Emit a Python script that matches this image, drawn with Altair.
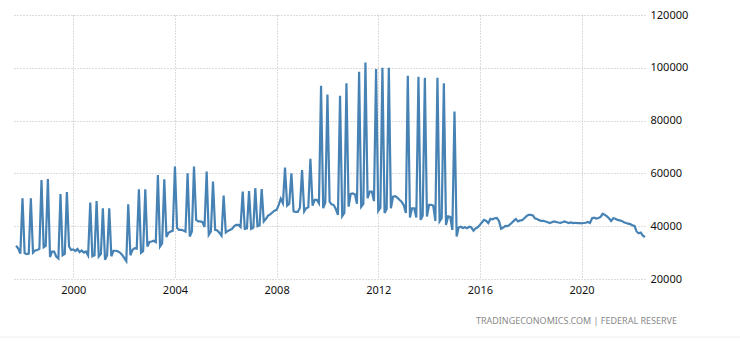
import altair as alt
import pandas as pd

# Monthly series, first value = October 1997
start_month = "1997-10-01"
values = [
    32600, 31500, 29600,                                                            # 1997 Oct-Dec
    50600, 29800, 29400, 29600, 50600, 30000, 30800, 31000, 31400, 57500, 32000, 32500,  # 1998
    57900, 28300, 30400, 30400, 28500, 27800, 52200, 29000, 29500, 52900, 32300, 31000,  # 1999
    31200, 30600, 31400, 30200, 30800, 30000, 30400, 28900, 49000, 28600, 29000, 49500,  # 2000
    28500, 29500, 46800, 27300, 29000, 46800, 28600, 30700, 30700, 30500, 30000, 29200,  # 2001
    28000, 26800, 48300, 29000, 31000, 31700, 31500, 54000, 29900, 30500, 54000, 32300,  # 2002
    34000, 34200, 34500, 34000, 59400, 32300, 33500, 57800, 35900, 37500, 38000, 38300,  # 2003
    62600, 39300, 38600, 38600, 38400, 38000, 60000, 36100, 38000, 62600, 42400, 41800,  # 2004
    41800, 41500, 39700, 60700, 36700, 38000, 56900, 38600, 38400, 37500, 36400, 51600,  # 2005
    37600, 38200, 38600, 39000, 40000, 40500, 40500, 39700, 53100, 39000, 39200, 53300,  # 2006
    39000, 39500, 54400, 40000, 40300, 54100, 41800, 42800, 44000, 44500, 45200, 45900,  # 2007
    46200, 48100, 50400, 48700, 62200, 47800, 48500, 60000, 45600, 45400, 45400, 47000,  # 2008
    61300, 45600, 46800, 47200, 65500, 47800, 50000, 50000, 48700, 93200, 46800, 49000,  # 2009
    89900, 49300, 48300, 48000, 46500, 44300, 89400, 43800, 45000, 94100, 47400, 52200,  # 2010
    52400, 52000, 48500, 98500, 47400, 48500, 102000, 50600, 53100, 53100, 49500, 99500, # 2011
    45800, 47000, 100000, 45000, 46500, 100000, 46800, 51200, 51400, 50800, 50000, 49300,# 2012
    48000, 45000, 97000, 43300, 46800, 46800, 43300, 96600, 42400, 44000, 96200, 43700,  # 2013
    48100, 48100, 47800, 42000, 96200, 41800, 43000, 94100, 40500, 43700, 43500, 38600,  # 2014
    83400, 36100, 39500, 39800, 39300, 39600, 39200, 39800, 39500, 38300, 39200, 39600,  # 2015
    40500, 41500, 42400, 42000, 41200, 42800, 42600, 43000, 43100, 42000, 39000, 39500,  # 2016
    40100, 40000, 40500, 41200, 42000, 42700, 41800, 42200, 42300, 43000, 43800, 44300,  # 2017
    44300, 44100, 43000, 42700, 42300, 42000, 42000, 41800, 41500, 41200, 41500, 41800,  # 2018
    41600, 41400, 41300, 41500, 41800, 41500, 41200, 41400, 41200, 41300, 41200, 41200,  # 2019
    41100, 41200, 41300, 41600, 41200, 43000, 43200, 42900, 43100, 43500, 44700, 44300,  # 2020
    43700, 42900, 42000, 43000, 42800, 42400, 42200, 42000, 41500, 41200, 41000, 40800,  # 2021
    40300, 40100, 38000, 37300, 37600, 36400, 35900,                                     # 2022 Jan-Jul
]
x_tick_years = [2000, 2004, 2008, 2012, 2016, 2020]
y_ticks = [20000, 40000, 60000, 80000, 100000, 120000]
source_text = "TRADINGECONOMICS.COM  |  FEDERAL  RESERVE"

dates = pd.date_range(start_month, periods=len(values), freq="MS")
df = pd.DataFrame({"date": dates, "value": values})

FONT = "Noto Sans"

line = alt.Chart(df).mark_line(color="#4682b4", strokeWidth=2.2).encode(
    x=alt.X(
        "date:T",
        scale=alt.Scale(domain=[alt.DateTime(year=1997, month=9, date=1),
                                alt.DateTime(year=2022, month=7, date=1)]),
        axis=alt.Axis(
            values=[alt.DateTime(year=y, month=1, date=1) for y in x_tick_years],
            format="%Y", title=None, domain=False, ticks=False,
            grid=True, gridDash=[1, 2], gridColor="#b8b8b8",
            labelFont=FONT, labelFontSize=11, labelColor="#111111", labelPadding=5,
        ),
    ),
    y=alt.Y(
        "value:Q",
        scale=alt.Scale(domain=[20000, 120000]),
        axis=alt.Axis(
            orient="right", values=y_ticks, format="d", title=None,
            domain=False, ticks=False, grid=True, gridDash=[1, 2], gridColor="#b8b8b8",
            labelFont=FONT, labelFontSize=11, labelColor="#111111", labelPadding=5,
        ),
    ),
)

src = alt.Chart(pd.DataFrame({"t": [source_text]})).mark_text(
    align="right", baseline="middle", fontSize=9, color="#8a8a8a", font=FONT
).encode(x=alt.value(663), y=alt.value(306), text="t:N")

sep = alt.Chart(pd.DataFrame({"a": [0]})).mark_rule(color="#eeeeee").encode(
    x=alt.value(-14), x2=alt.value(726), y=alt.value(322)
)

chart = alt.layer(line, src, sep).properties(
    width=631, height=264,
    autosize=alt.AutoSizeParams(type="none"),
    padding={"left": 14, "top": 15, "right": 95, "bottom": 74},
).configure_view(stroke=None)

chart.save("out.html", embed_options={"renderer": "svg", "actions": False})
